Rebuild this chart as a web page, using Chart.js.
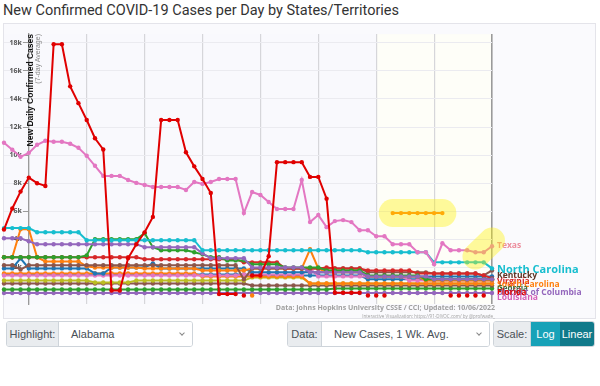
<!DOCTYPE html>
<html lang="en">
<head>
<meta charset="UTF-8">
<title>New Confirmed COVID-19 Cases per Day by States/Territories</title>
<script src="https://cdn.jsdelivr.net/npm/chart.js"></script>
<style>
  body { margin: 0; width: 600px; height: 386px; position: relative; overflow: hidden; background: #fff; font-family: Roboto, Arial, sans-serif; }
  h1 { position: absolute; left: 3px; top: 0; margin: 0; font-size: 14.5px; font-weight: 400; color: #333; line-height: 22px; white-space: nowrap; }
  #panel { position: absolute; left: 3px; top: 23px; width: 591px; height: 294px; border: 1px solid #e4e4ea; background: #fafafd; }
  #wrap { position: absolute; left: 0; top: 24px; width: 600px; height: 292px; }
  #ytitle { position: absolute; left: 26px; top: 152px; width: 118px; transform-origin: 0 0; transform: rotate(-90deg); text-align: right; font-family: "Liberation Sans", Arial, sans-serif; }
  #ytitle b { display: block; font-size: 8.5px; line-height: 8px; color: #111; }
  #ytitle span { display: block; font-size: 7px; line-height: 8px; color: #888; }
  .cap { position: absolute; right: 105px; text-align: right; color: #a0a0a0; font-family: "Open Sans", sans-serif; font-weight: 700; white-space: nowrap; }
  .grp { position: absolute; top: 321px; height: 26px; display: flex; border: 1px solid #ced4da; border-radius: 3px; overflow: hidden; font-family: "Liberation Sans", Arial, sans-serif; font-size: 11px; color: #495057; box-sizing: border-box; }
  .lab { background: #e9ecef; border-right: 1px solid #ced4da; display: flex; align-items: center; justify-content: center; }
  .sel { background: #fff; flex: 1; display: flex; align-items: center; padding-left: 12px; position: relative; }
  .sel::after { content: ""; position: absolute; right: 8px; top: 9px; width: 3px; height: 3px; border-right: 1px solid #888; border-bottom: 1px solid #888; transform: rotate(45deg); }
  .btn { display: flex; align-items: center; justify-content: center; color: #fff; }
</style>
</head>
<body>
<h1>New Confirmed COVID-19 Cases per Day by States/Territories</h1>
<div id="panel"></div>
<div id="wrap"><canvas id="chart"></canvas></div>
<div id="ytitle"><b>New Daily Confirmed Cases</b><span>(7-day Average)</span></div>
<div class="cap" style="top:303px;font-size:7px;">Data: Johns Hopkins University CSSE / CCI; Updated: 10/06/2022</div>
<div class="cap" style="top:313px;font-size:4.5px;font-weight:400;">Interactive Visualization: https://91-DIVOC.com/ by @profwade_</div>

<div class="grp" style="left:6px;width:187px;">
  <span class="lab" style="width:51px;">Highlight:</span>
  <span class="sel">Alabama</span>
</div>
<div class="grp" style="left:287px;width:203px;">
  <span class="lab" style="width:33px;">Data:</span>
  <span class="sel">New Cases, 1 Wk. Avg.</span>
</div>
<div class="grp" style="left:493px;width:102px;">
  <span class="lab" style="width:36px;">Scale:</span>
  <span class="btn" style="width:29px;background:#17a2b8;">Log</span>
  <span class="btn" style="flex:1;background:#117a8b;">Linear</span>
</div>

<script>
const xLabels = ['Aug 7','Aug 8','Aug 9','Aug 10','Aug 11','Aug 12','Aug 13','Aug 14','Aug 15','Aug 16',
  'Aug 17','Aug 18','Aug 19','Aug 20','Aug 21','Aug 22','Aug 23','Aug 24','Aug 25','Aug 26',
  'Aug 27','Aug 28','Aug 29','Aug 30','Aug 31','Sep 1','Sep 2','Sep 3','Sep 4','Sep 5',
  'Sep 6','Sep 7','Sep 8','Sep 9','Sep 10','Sep 11','Sep 12','Sep 13','Sep 14','Sep 15',
  'Sep 16','Sep 17','Sep 18','Sep 19','Sep 20','Sep 21','Sep 22','Sep 23','Sep 24','Sep 25',
  'Sep 26','Sep 27','Sep 28','Sep 29','Sep 30','Oct 1','Oct 2','Oct 3','Oct 4','Oct 5'];
const weekTicks = ['Aug 10','Aug 17','Aug 24','Aug 31','Sep 7','Sep 14','Sep 21','Sep 28','Oct 5'];
const yTicks = [2000, 4000, 6000, 8000, 10000, 12000, 14000, 16000, 18000];
const yTickLabels = ['2k','4k','6k','8k','10k','12k','14k','16k','18k'];
const yMin = -605, yMax = 18620;

const florida = [4700,6200,7400,8400,8000,7800,17900,17900,14900,13700,12500,11200,10400,360,360,2650,3650,4500,5600,12500,
  12500,12500,10200,9200,8300,7300,100,100,100,null,1430,1430,2800,9500,9500,9500,9500,8450,8450,6900,
  200,200,200,200,null,null,null,null,null,null,null,null,null,null,null,null,null,null,null,null];
const floridaZeros = [null,null,null,null,null,null,null,null,null,null,null,null,null,null,null,null,null,null,null,null,
  null,null,null,null,null,null,null,null,null,0,null,null,null,null,null,null,null,null,null,null,
  null,null,null,null,0,0,0,null,null,null,null,null,null,null,0,0,0,0,0,null];
const orangeZero = [null,null,null,null,null,null,null,null,null,null,null,null,null,null,null,null,null,null,null,null,
  null,null,null,null,null,null,null,null,null,null,0,null,null,null,null,null,null,null,null,null,
  null,null,null,null,null,null,null,null,null,null,null,null,null,null,null,null,null,null,null,null];
const orangeSpike = [null,null,null,null,null,null,null,null,null,null,null,null,null,null,null,null,null,null,null,null,
  null,null,null,null,null,null,null,null,null,null,null,null,null,null,null,null,null,null,null,null,
  null,null,null,null,null,null,null,5870,5870,5870,5870,5870,5870,5870,null,null,null,null,null,null];
const texasHighlight = [null,null,null,null,null,null,null,null,null,null,null,null,null,null,null,null,null,null,null,null,
  null,null,null,null,null,null,null,null,null,null,null,null,null,null,null,null,null,null,null,null,
  null,null,null,null,null,null,null,null,null,null,null,null,null,null,null,null,null,2780,3350,3920];
const texas = [10880,10380,9880,10160,10740,11020,10950,10950,10810,10520,9950,9240,8520,8520,8520,8230,8020,7870,7730,7730,
  7730,7730,7520,8090,7950,8090,8300,8300,8300,5870,7370,7160,6660,6160,6160,6160,8230,5230,5730,4870,
  5300,5370,5230,4650,4650,4220,4220,3650,3650,3650,3080,3080,2220,3720,3220,3220,3220,3080,3080,3510];
const northCarolina = [4800,4800,4800,4800,4510,4510,4510,4510,4510,4510,3940,3940,3940,3940,3940,3940,3940,3940,3940,3940,
  3940,3940,3940,3940,3220,3220,3220,3220,3220,3220,3220,3220,3220,3220,3220,3220,3220,3220,3220,3220,
  3220,3220,3220,3220,3080,3080,3080,3080,3080,3080,3080,3080,2360,2360,2360,2360,2360,2360,2360,1930];
const purpleTop = [4080,4080,4080,3860,3650,3650,3650,3650,3650,3650,3650,3650,3650,3650,3650,3650,3650,3440,3440,3440,
  3440,3440,3440,3440,3000,2650,2650,2650,2650,2650,2000,2000,2000,2000,2000,2000,2000,1650,1650,1650,
  1650,1650,1650,1650,1360,1360,1360,1360,1360,1360,1360,1360,1150,1150,1150,1150,1150,1150,1150,1150];
const greenTop = [2720,2720,2720,2720,2720,2720,2720,2720,2720,2720,2860,4010,4010,4010,4010,4010,4010,4440,3440,3220,
  3220,3220,3220,3080,2930,2720,2720,2500,2500,2500,2220,2220,2220,2220,2000,2000,2000,2000,2000,1790,
  1790,1790,1790,1790,1430,1430,1430,1430,1430,1430,1430,1150,1150,1150,1150,1150,1150,1150,1150,1150];
const virginia = [2720,2720,2720,2720,2720,2720,2720,2720,2720,2720,2720,2720,2720,2720,2720,2720,2720,2580,2580,2580,
  2580,2580,2580,2580,2580,2580,2580,2580,2580,2360,2360,2360,2360,2360,1930,1930,1930,1930,1930,2000,
  1930,1930,1930,1930,1790,1790,1790,1790,1790,1790,1570,1570,1570,1570,1570,1570,1570,1570,1430,1220];
const kentucky = [2150,2150,1860,2150,2150,2150,2150,2150,2150,2150,2150,2150,2150,2150,2150,2150,2150,2150,2150,2150,
  2150,2150,2150,2150,2150,2150,2150,2150,2150,1150,1930,1930,1930,1930,1930,1930,1930,1930,1930,1930,
  1930,1930,1930,1930,1650,1650,1650,1650,1650,1650,1650,1650,1570,1570,1570,1570,1570,1570,1430,1790];
const southCarolina = [2720,2720,4720,4720,2720,2430,2430,2430,2430,2430,2080,2000,2000,2000,2000,2000,2000,1930,1930,1930,
  1930,1930,1930,1930,1790,1790,1790,1790,1790,1790,1930,1930,1930,1930,1930,1930,1930,3290,1930,1650,
  1650,1650,1650,1650,1360,1360,1360,1360,1360,1360,1360,1070,1070,1070,1070,1070,1070,1070,1070,1070];
const orangeLow = [1570,1570,1570,1570,1570,1570,1570,1570,1570,1570,1570,1570,1570,1570,1570,1570,1570,1570,1570,1570,
  1570,1570,1570,1570,1360,1360,1360,1360,1360,1360,1360,1360,1360,1360,1360,1360,1360,860,860,860,
  860,860,860,860,860,860,860,860,860,860,860,860,860,860,860,860,860,860,860,860];
const blueA = [1930,1930,2650,1930,1930,1930,1930,1930,1930,1930,1930,1570,1570,2000,2000,2000,2000,2000,2290,1930,
  1930,1930,1930,1930,1930,1930,1930,1930,1930,1930,1650,1650,1650,1650,1650,1650,1650,1650,1650,1650,
  1650,1650,1650,1650,1360,1360,1360,1360,1360,1360,1360,1360,1360,1360,1360,1360,1360,1360,1360,1360];
const blueB = [1500,1500,1500,1500,1500,1500,1500,1500,1500,1500,1500,1500,1500,1500,1500,1500,1500,1500,1500,1500,
  1500,1500,1500,1500,1500,1500,1500,1500,1500,1500,1430,1430,1430,1430,1430,1430,1430,1430,1430,1430,
  1430,1430,1430,1430,1150,1150,1150,1150,1150,1150,1150,1150,1150,1150,1150,1150,1150,1150,1150,1150];
const louisiana = [1430,1430,1430,1430,1430,1430,1430,1430,1430,1430,1430,1430,1430,1430,1430,1430,1430,1430,1430,1430,
  1430,1430,1430,1430,1430,1430,1430,1430,1430,1500,1500,1500,1500,1500,1500,1500,1500,1930,1360,1360,
  1360,1360,1360,1360,1360,1360,1360,1360,1360,1070,1070,1070,1070,1070,1070,1070,1070,1070,1070,1070];
const olive = [1070,1070,1070,1070,1070,1070,1070,1070,1070,1070,1070,930,930,930,930,930,1070,1070,1070,1070,
  1070,1070,1070,1070,1070,1070,1070,1070,1070,1070,1290,1290,1290,1290,1290,1290,1290,860,860,860,
  860,860,860,860,860,860,860,860,860,860,860,860,860,860,860,860,860,860,860,860];
const brownLow = [860,860,860,860,860,860,860,860,860,860,860,860,860,860,860,860,860,860,860,860,
  860,860,860,860,860,860,860,860,860,860,720,720,720,720,720,720,720,720,720,720,
  720,720,720,720,720,720,720,720,720,720,720,720,720,720,720,720,720,720,720,720];
const georgia = [430,430,430,430,430,430,430,430,430,430,430,430,430,430,430,430,430,430,430,430,
  430,430,430,430,430,430,430,430,430,430,430,430,430,430,430,430,430,430,430,430,
  500,500,500,500,500,500,500,500,500,500,500,500,500,500,500,500,500,500,500,500];
const districtOfColumbia = [180,180,180,180,180,180,180,180,180,180,180,180,180,180,180,180,180,180,180,180,
  180,180,180,180,180,180,180,180,180,180,180,180,180,180,180,180,180,180,180,180,
  180,180,180,180,180,180,180,180,180,180,180,180,180,180,180,180,180,180,180,180];

const endLabels = ['Texas','North Carolina','Kentucky','Virginia','South Carolina','Georgia','District of Columbia','Florida','Louisiana'];
const endLabelValues = [3560, 1850, 1420, 1000, 780, 500, 210, 210, -140];
const endLabelColors = ['#ec8d9d','#17becf','#5e3526','#d62728','#ff7f0e','#3f6b3a','#9467bd','#e00000','#d45fb8'];
const endLabelSizes = [8.5, 11, 8.5, 8.5, 8.5, 8, 8.5, 8.5, 8.5];

function line(data, color, extra) {
  return Object.assign({
    data: data, borderColor: color, backgroundColor: color, pointBackgroundColor: color,
    borderWidth: 2, pointRadius: 2.2, pointBorderWidth: 0, tension: 0, spanGaps: false
  }, extra || {});
}

const bgPlugin = {
  id: 'bg',
  beforeDraw(chart) {
    const { ctx, chartArea: a, scales: { x } } = chart;
    ctx.save();
    ctx.fillStyle = '#f9f9fd';
    ctx.fillRect(a.left, a.top, a.right - a.left, a.bottom - a.top);
    const b = x.getPixelForValue(xLabels.indexOf('Sep 21'));
    ctx.fillStyle = '#fefef8';
    ctx.fillRect(b, a.top, a.right - b, a.bottom - a.top);
    ctx.restore();
  }
};

const hl = 'rgba(255, 242, 0, 0.38)';

new Chart(document.getElementById('chart'), {
  type: 'line',
  data: {
    labels: xLabels,
    datasets: [
      line(texasHighlight, hl, { borderWidth: 26, pointRadius: 0, borderCapStyle: 'round', borderJoinStyle: 'round' }),
      line(orangeSpike, hl, { borderWidth: 28, pointRadius: 0, borderCapStyle: 'round', borderJoinStyle: 'round' }),
      line(orangeSpike, '#ff7f0e'),
      line(florida, '#e00000'),
      line(floridaZeros, '#e00000', { showLine: false }),
      line(orangeZero, '#ff7f0e', { showLine: false }),
      line(texas, '#e377c2'),
      line(northCarolina, '#17becf'),
      line(purpleTop, '#9467bd'),
      line(greenTop, '#2ca02c'),
      line(virginia, '#d62728'),
      line(kentucky, '#8c564b'),
      line(southCarolina, '#ff7f0e'),
      line(blueA, '#1f77b4'),
      line(louisiana, '#e377c2'),
      line(orangeLow, '#ff7f0e'),
      line(blueB, '#1f77b4'),
      line(olive, '#bcbd22'),
      line(brownLow, '#8c564b'),
      line(georgia, '#2ca02c'),
      line(districtOfColumbia, '#9467bd')
    ]
  },
  options: {
    responsive: true,
    maintainAspectRatio: false,
    animation: false,
    events: [],
    layout: { padding: { top: 10, bottom: 12, left: 0, right: 0 } },
    plugins: { legend: { display: false }, tooltip: { enabled: false } },
    scales: {
      x: {
        type: 'category',
        offset: false,
        afterFit: s => { s.height = 0; },
        border: { display: false },
        grid: {
          drawTicks: false,
          color: c => {
            const lab = xLabels[c.index];
            if (!weekTicks.includes(lab)) return 'rgba(0,0,0,0)';
            return lab === 'Oct 5' ? '#9a9a9a' : '#d6d6da';
          },
          lineWidth: c => xLabels[c.index] === 'Oct 5' ? 1.6 : 1.2
        },
        ticks: {
          autoSkip: false, maxRotation: 0, minRotation: 0, align: 'end', padding: -11,
          color: '#a0a0a0',
          font: { family: 'Open Sans', weight: 'bold', size: 7.5 },
          callback: (v, i) => weekTicks.includes(xLabels[i]) ? xLabels[i] + ' ' : ''
        }
      },
      y: {
        position: { x: xLabels.indexOf('Aug 10') },
        min: yMin, max: yMax,
        afterFit: s => { s.width = 0; },
        afterBuildTicks: s => { s.ticks = yTicks.map(v => ({ value: v })); },
        border: { display: true, color: '#9a9a9a', width: 1.3 },
        grid: { color: '#ebebf0', lineWidth: 1, tickLength: 5, tickColor: '#9a9a9a' },
        ticks: {
          color: '#555',
          font: { family: 'Open Sans', weight: 'bold', size: 7 },
          callback: (v, i) => yTickLabels[i] + '\u2002\u2002'
        }
      },
      names: {
        type: 'linear',
        position: 'right',
        min: yMin, max: yMax,
        afterFit: s => { s.width = 108; },
        afterBuildTicks: s => { s.ticks = endLabelValues.map(v => ({ value: v })); },
        border: { display: false },
        grid: { display: false, drawTicks: false },
        ticks: {
          autoSkip: false,
          padding: 5,
          color: c => endLabelColors[c.index],
          font: c => ({ family: 'Open Sans', weight: 'bold', size: endLabelSizes[c.index] }),
          callback: (v, i) => endLabels[i]
        }
      }
    }
  },
  plugins: [bgPlugin]
});
</script>
</body>
</html>
